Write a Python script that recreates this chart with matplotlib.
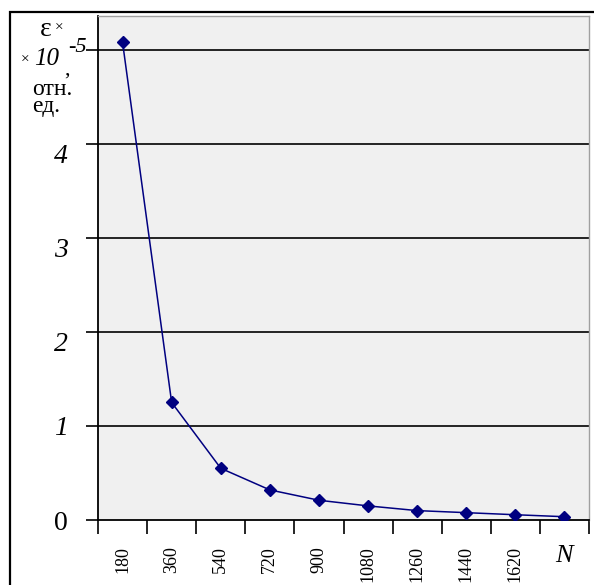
import numpy as np
import matplotlib.pyplot as plt
from matplotlib.patches import Rectangle

# данные
N_labels = ['180', '360', '540', '720', '900', '1080', '1260', '1440', '1620']
eps = [5.08, 1.25, 0.55, 0.32, 0.21, 0.15, 0.10, 0.078, 0.056, 0.035]
y_ticks = [0, 1, 2, 3, 4, 5]
y_tick_labels = ['0', '1', '2', '3', '4', '']

plt.rcParams['font.family'] = ['Liberation Serif', 'DejaVu Serif']

W, H = 594, 585
fig = plt.figure(figsize=(W / 100, H / 100), dpi=100)
fig.patch.set_facecolor('white')


def px(x, y):
    # пиксели (от левого верхнего угла) -> доли фигуры
    return x / W, 1 - y / H


# внешняя рамка
fig.patches.append(Rectangle((10 / W, -0.05), 1.0, (H - 12) / H + 0.05,
                             transform=fig.transFigure, fill=False,
                             edgecolor='black', lw=1.6))

ax = fig.add_axes([98 / W, (H - 520) / H, (589 - 98) / W, (520 - 16) / H])
ax.set_facecolor('#f0f0f0')

x = np.arange(len(eps))
ax.plot(x, eps, color='#000080', lw=1.1, marker='D', ms=6.5,
        markerfacecolor='#000080', markeredgecolor='#000080', zorder=3)

ax.set_xlim(-0.5, len(eps) - 0.5)
ax.set_ylim(0, 5.36)

for v in y_ticks[1:]:
    ax.axhline(v, color='black', lw=1.2, zorder=1)

for s in ['top', 'right']:
    ax.spines[s].set_color('#a0a0a0')
    ax.spines[s].set_linewidth(1.0)
for s in ['left', 'bottom']:
    ax.spines[s].set_color('black')
    ax.spines[s].set_linewidth(1.3)

ax.set_yticks(y_ticks)
ax.set_yticklabels(y_tick_labels)
ax.tick_params(axis='y', direction='out', length=9, width=1.2, pad=13,
               labelsize=20)
for i, t in enumerate(ax.get_yticklabels()):
    if i > 0:
        t.set_style('italic')
    if i >= 2:
        t.set_verticalalignment('top')

ax.set_xticks(np.arange(-0.5, len(eps)), minor=True)
ax.set_xticks(np.arange(len(N_labels)))
ax.set_xticklabels(N_labels, rotation=90, fontsize=13)
ax.tick_params(axis='x', which='major', length=0, pad=19)
ax.tick_params(axis='x', which='minor', direction='out', length=10, width=1.2)
for t in ax.get_xticklabels():
    t.set_verticalalignment('top')

ax.text(len(eps) - 1, -0.27, 'N', style='italic', fontsize=19,
        ha='center', va='top')

# подпись оси y
fig.text(*px(46, 29), 'ε', fontsize=20, ha='center', va='center')
fig.text(*px(59, 28), '×', fontsize=11, ha='center', va='center')
fig.text(*px(25, 60), '×', fontsize=11, ha='center', va='center')
fig.text(*px(47, 59), '10', fontsize=18, ha='center', va='center',
         style='italic')
fig.text(*px(77, 48), '-5', fontsize=16, ha='center', va='center',
         style='italic')
fig.text(*px(67, 70), ',', fontsize=16, ha='center', va='center')
fig.text(*px(32, 112), 'отн.\nед.', fontsize=17, ha='left', va='baseline',
         multialignment='left', linespacing=0.75)

plt.savefig('out.png', dpi=100)
